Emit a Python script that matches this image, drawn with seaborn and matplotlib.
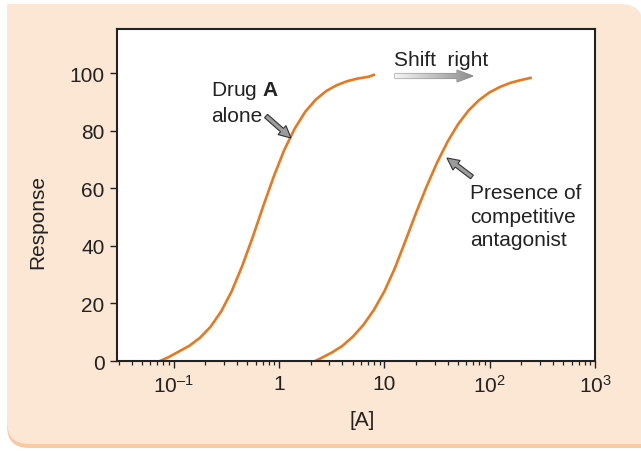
import numpy as np
import pandas as pd
import matplotlib
matplotlib.use("Agg")
import matplotlib.pyplot as plt
import seaborn as sns
from matplotlib.patches import FancyBboxPatch, FancyArrow, Rectangle

# ---- data ----
conc_alone = [0.0741, 0.0891, 0.112, 0.141, 0.178, 0.224, 0.282, 0.355, 0.447, 0.562, 0.708,
              0.891, 1.12, 1.41, 1.78, 2.24, 2.82, 3.55, 4.47, 5.62, 7.08, 8.17]
resp_alone = [0.0, 1.3, 3.3, 5.3, 8.1, 11.9, 17.2, 24.2, 33.0, 43.0, 53.8,
              64.1, 73.3, 80.8, 86.7, 90.9, 93.9, 95.9, 97.3, 98.2, 98.8, 99.6]
conc_antag = [2.20, 2.51, 3.16, 3.98, 5.01, 6.31, 7.94, 10.0, 12.6, 15.8, 20.0,
              25.1, 31.6, 39.8, 50.1, 63.1, 79.4, 100.0, 126.0, 158.0, 200.0, 251.0]
resp_antag = [0.0, 1.0, 2.9, 5.2, 8.4, 12.5, 17.7, 24.2, 32.3, 41.6, 51.5,
              60.5, 68.9, 76.2, 82.3, 87.1, 90.7, 93.4, 95.3, 96.7, 97.7, 98.5]
x_ticks = [0.1, 1, 10, 100, 1000]
x_tick_labels = ["$10^{\u2013 1}$", "1", "10", "$10^{2}$", "$10^{3}$"]
y_ticks = [0, 20, 40, 60, 80, 100]

df = pd.DataFrame({
    "conc": conc_alone + conc_antag,
    "response": resp_alone + resp_antag,
    "curve": ["alone"] * len(conc_alone) + ["antagonist"] * len(conc_antag),
})

sns.set_style("white")
plt.rcParams["font.family"] = ["Liberation Sans", "DejaVu Sans"]
plt.rcParams["mathtext.fontset"] = "custom"
plt.rcParams["mathtext.rm"] = "Liberation Sans"
plt.rcParams["mathtext.it"] = "Liberation Sans"
plt.rcParams["mathtext.bf"] = "Liberation Sans:bold"

W, H = 641, 452
fig = plt.figure(figsize=(W / 100, H / 100), dpi=100)
fig.patch.set_facecolor("white")

def px(x0, y0, x1, y1):
    return [x0 / W, 1 - y1 / H, (x1 - x0) / W, (y1 - y0) / H]

PEACH = "#FCE6D4"
SHADOW = "#F7CB9F"
# background panel
bg = fig.add_axes([0, 0, 1, 1], zorder=0)
bg.set_xlim(0, W); bg.set_ylim(H, 0); bg.axis("off")
bg.add_patch(FancyBboxPatch((7, 9), 636, 440, boxstyle="round,pad=0,rounding_size=22",
                            fc=SHADOW, ec="none"))
bg.add_patch(Rectangle((560, 400), 90, 49, fc=SHADOW, ec="none"))
bg.add_patch(FancyBboxPatch((7, 5), 636, 440, boxstyle="round,pad=0,rounding_size=22",
                            fc=PEACH, ec="none"))
bg.add_patch(Rectangle((7, 5), 60, 60, fc=PEACH, ec="none"))
bg.add_patch(Rectangle((560, 380), 90, 65, fc=PEACH, ec="none"))

ax = fig.add_axes(px(117, 30, 595, 362), zorder=1)
ORANGE = "#E8781E"
sns.lineplot(data=df, x="conc", y="response", hue="curve", palette=[ORANGE, ORANGE],
             estimator=None, sort=False, legend=False, linewidth=1.9, ax=ax)
for ln in ax.lines:
    ln.set_solid_capstyle("butt")
    ln.set_solid_joinstyle("round")
ax.set_xscale("log")
ax.set_xlim(10 ** -1.538, 1000)
ax.set_ylim(0, 115.4)
ax.set_facecolor("white")
ax.set_xticks(x_ticks)
ax.set_xticklabels(x_tick_labels)
ax.xaxis.set_minor_locator(matplotlib.ticker.LogLocator(base=10, subs=np.arange(2, 10)))
ax.xaxis.set_minor_formatter(matplotlib.ticker.NullFormatter())
ax.set_yticks(y_ticks)
ax.tick_params(axis="both", which="major", direction="out", length=5, width=1.0,
               color="#222222", labelsize=15, labelcolor="#222222", pad=4,
               bottom=True, left=True)
ax.tick_params(axis="x", which="minor", direction="out", length=3, width=0.9,
               color="#222222", bottom=True)
for s in ax.spines.values():
    s.set_linewidth(1.5)
    s.set_color("#222222")
ax.set_xlabel("[A]", fontsize=15, color="#222222")
ax.set_ylabel("Response", fontsize=15, color="#222222")
ax.xaxis.set_label_coords((362 - 117) / 478, -(411 - 362) / 332)
ax.yaxis.set_label_coords(-(117 - 47) / 478, (362 - 222) / 332)

# overlay for annotations (image pixel coordinates)
ov = fig.add_axes([0, 0, 1, 1], zorder=2)
ov.set_xlim(0, W); ov.set_ylim(H, 0); ov.axis("off"); ov.patch.set_alpha(0)

TC = "#222222"
ov.text(211, 91, "Drug $\\mathbf{A}$", fontsize=15, color=TC, va="center", ha="left")
ov.text(211, 116, "alone", fontsize=15, color=TC, va="center", ha="left")
ov.text(394, 60, "Shift  right", fontsize=15, color=TC, va="center", ha="left")
for i, line in enumerate(["Presence of", "competitive", "antagonist"]):
    ov.text(470, 194 + 23.5 * i, line, fontsize=15, color=TC, va="center", ha="left")

def small_arrow(x0, y0, x1, y1):
    dx, dy = x1 - x0, y1 - y0
    a = FancyArrow(x0, y0, dx, dy, width=4.5, head_width=12, head_length=12,
                   length_includes_head=True, fc="#9C9C9C", ec="#333333", lw=0.8)
    ov.add_patch(a)

small_arrow(266, 117, 291, 139)
small_arrow(472, 178, 447, 159)

# shift-right gradient arrow
arr = FancyArrow(395, 77, 78, 0, width=5, head_width=12, head_length=16,
                 length_includes_head=True, fc="none", ec="#8C8C8C", lw=0.8)
ov.add_patch(arr)
grad = np.linspace(0, 1, 256).reshape(1, -1)
cmap = matplotlib.colors.LinearSegmentedColormap.from_list("g", ["#F4F4F4", "#8E8E8E"])
im = ov.imshow(grad, extent=[395, 473, 84, 70], cmap=cmap, aspect="auto", zorder=1)
im.set_clip_path(arr)
ov.set_xlim(0, W); ov.set_ylim(H, 0)

fig.savefig("out.png", dpi=100, facecolor="white")
